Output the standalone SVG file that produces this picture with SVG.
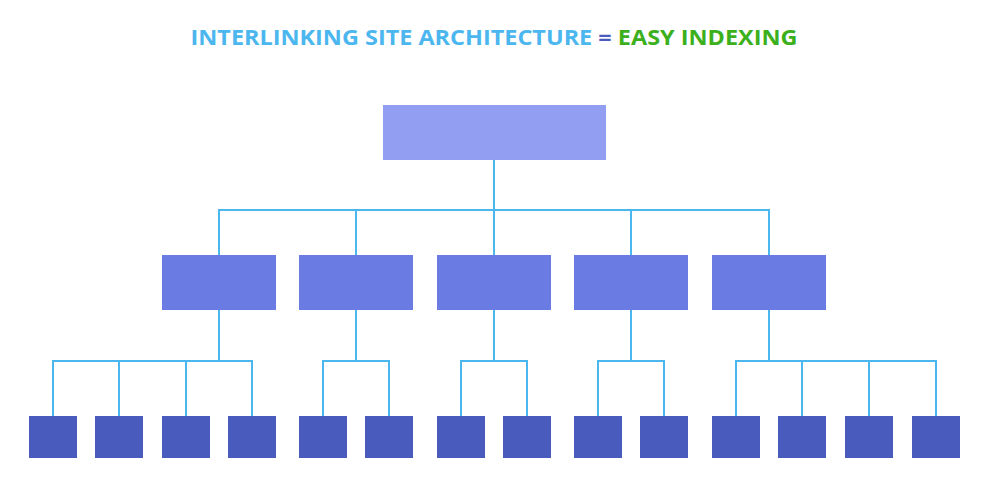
<svg xmlns="http://www.w3.org/2000/svg" width="984" height="483" viewBox="0 0 984 483">
<style>
.top{fill:#929ef2}.mid{fill:#6a7be4}.leaf{fill:#4a5bbe}
.c{fill:none;stroke:#4cb6ef;stroke-width:2}
text{font-family:"Open Sans","Liberation Sans",sans-serif;font-weight:700;font-size:22px}
</style>
<rect width="984" height="483" fill="#fff"/>
<text x="494" y="45" text-anchor="middle" textLength="607" lengthAdjust="spacingAndGlyphs"><tspan fill="#4cb6ef">INTERLINKING SITE ARCHITECTURE </tspan><tspan fill="#4a5bbe">=</tspan><tspan fill="#3cb01c"> EASY INDEXING</tspan></text>
<g id="connectors" class="c">
<path d="M494 160V210M219 255V210H769V255M356 210V255M494 210V255M631 210V255"/>
<path d="M219 310V361M53 416V361H252V416M119 361V416M186 361V416"/>
<path d="M356 310V361M323 416V361H389V416"/>
<path d="M494 310V361M461 416V361H527V416"/>
<path d="M631 310V361M598 416V361H664V416"/>
<path d="M769 310V361M736 416V361H936V416M802 361V416M869 361V416"/>
</g>
<g id="root"><rect class="top" x="383" y="105" width="223" height="55"/></g>
<g id="m1"><rect class="mid" x="162" y="255" width="114" height="55"/></g>
<g id="m2"><rect class="mid" x="299" y="255" width="114" height="55"/></g>
<g id="m3"><rect class="mid" x="437" y="255" width="114" height="55"/></g>
<g id="m4"><rect class="mid" x="574" y="255" width="114" height="55"/></g>
<g id="m5"><rect class="mid" x="712" y="255" width="114" height="55"/></g>
<g id="l1"><rect class="leaf" x="29" y="416" width="48" height="42"/></g>
<g id="l2"><rect class="leaf" x="95" y="416" width="48" height="42"/></g>
<g id="l3"><rect class="leaf" x="162" y="416" width="48" height="42"/></g>
<g id="l4"><rect class="leaf" x="228" y="416" width="48" height="42"/></g>
<g id="l5"><rect class="leaf" x="299" y="416" width="48" height="42"/></g>
<g id="l6"><rect class="leaf" x="365" y="416" width="48" height="42"/></g>
<g id="l7"><rect class="leaf" x="437" y="416" width="48" height="42"/></g>
<g id="l8"><rect class="leaf" x="503" y="416" width="48" height="42"/></g>
<g id="l9"><rect class="leaf" x="574" y="416" width="48" height="42"/></g>
<g id="l10"><rect class="leaf" x="640" y="416" width="48" height="42"/></g>
<g id="l11"><rect class="leaf" x="712" y="416" width="48" height="42"/></g>
<g id="l12"><rect class="leaf" x="778" y="416" width="48" height="42"/></g>
<g id="l13"><rect class="leaf" x="845" y="416" width="48" height="42"/></g>
<g id="l14"><rect class="leaf" x="912" y="416" width="48" height="42"/></g>
</svg>
